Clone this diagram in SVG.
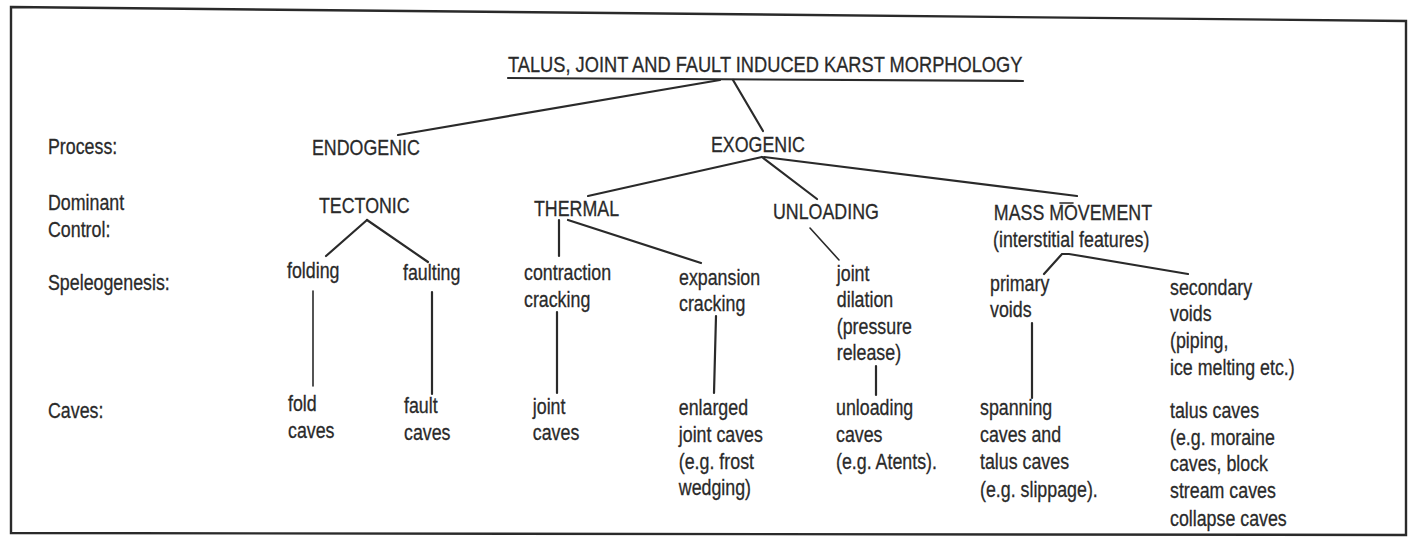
<svg xmlns="http://www.w3.org/2000/svg" width="1413" height="543" viewBox="0 0 1413 543">
<style>
.t { font-family: "Liberation Sans", Arial, Helvetica, sans-serif; font-size: 22px; fill: #2a2a2a; stroke: #2a2a2a; stroke-width: 0.3; transform-box: fill-box; transform-origin: left center; transform: scaleX(0.81); }
.tt { transform: scaleX(0.83); }
.c { stroke: #2a2a2a; stroke-width: 2.2; fill: none; stroke-linecap: round; }
.thin { stroke-width: 1.6; }
.frame { stroke: #2a2a2a; stroke-width: 2.4; fill: none; }
</style>
<rect x="0" y="0" width="1413" height="543" fill="#ffffff"/>
<path class="frame" d="M11,7 L1406,21 L1406,535 L11,533 Z"/>

<g id="title">
  <text class="t tt" x="508" y="72">TALUS, JOINT AND FAULT INDUCED KARST MORPHOLOGY</text>
  <line class="c" x1="508" y1="78" x2="1023" y2="81"/>
</g>

<g id="row-labels">
  <text class="t" x="48" y="154">Process:</text>
  <text class="t" x="48" y="210">Dominant<tspan x="48" dy="27">Control:</tspan></text>
  <text class="t" x="48" y="290">Speleogenesis:</text>
  <text class="t" x="48" y="418">Caves:</text>
</g>

<g id="endogenic"><text class="t" x="312" y="155">ENDOGENIC</text></g>
<g id="exogenic"><text class="t" x="711" y="152">EXOGENIC</text></g>
<g id="tectonic"><text class="t" x="319" y="213">TECTONIC</text></g>
<g id="thermal"><text class="t" x="534" y="216">THERMAL</text></g>
<g id="unloading"><text class="t" x="773" y="219">UNLOADING</text></g>
<g id="mass-movement"><text class="t" x="994" y="220">MASS MOVEMENT<tspan x="993" dy="27">(interstitial features)</tspan></text></g>

<g id="folding"><text class="t" x="287" y="278">folding</text></g>
<g id="faulting"><text class="t" x="403" y="280">faulting</text></g>
<g id="contraction"><text class="t" x="524" y="280">contraction<tspan x="524" dy="27">cracking</tspan></text></g>
<g id="expansion"><text class="t" x="679" y="285">expansion<tspan x="679" dy="26">cracking</tspan></text></g>
<g id="joint-dilation"><text class="t" x="837" y="281">joint<tspan x="837" dy="26.5">dilation</tspan><tspan x="837" dy="26.5">(pressure</tspan><tspan x="837" dy="26.5">release)</tspan></text></g>
<g id="primary-voids"><text class="t" x="990" y="291">primary<tspan x="990" dy="26.5">voids</tspan></text></g>
<g id="secondary-voids"><text class="t" x="1170" y="295">secondary<tspan x="1170" dy="26.5">voids</tspan><tspan x="1170" dy="27">(piping,</tspan><tspan x="1170" dy="27">ice melting etc.)</tspan></text></g>

<g id="fold-caves"><text class="t" x="288" y="411">fold<tspan x="288" dy="27">caves</tspan></text></g>
<g id="fault-caves"><text class="t" x="404" y="413">fault<tspan x="404" dy="27">caves</tspan></text></g>
<g id="joint-caves"><text class="t" x="533" y="414">joint<tspan x="533" dy="26.5">caves</tspan></text></g>
<g id="enlarged-joint-caves"><text class="t" x="679" y="415">enlarged<tspan x="679" dy="27">joint caves</tspan><tspan x="679" dy="27">(e.g. frost</tspan><tspan x="679" dy="26.5">wedging)</tspan></text></g>
<g id="unloading-caves"><text class="t" x="836" y="415">unloading<tspan x="836" dy="27">caves</tspan><tspan x="836" dy="27">(e.g. Atents).</tspan></text></g>
<g id="spanning-caves"><text class="t" x="980" y="415">spanning<tspan x="980" dy="27.5">caves and</tspan><tspan x="980" dy="27">talus caves</tspan><tspan x="980" dy="27.5">(e.g. slippage).</tspan></text></g>
<g id="talus-caves"><text class="t" x="1170" y="418">talus caves<tspan x="1170" dy="27">(e.g. moraine</tspan><tspan x="1170" dy="26.5">caves, block</tspan><tspan x="1170" dy="27">stream caves</tspan><tspan x="1170" dy="27.5">collapse caves</tspan></text></g>

<g id="connectors">
  <line class="c" x1="720" y1="80" x2="398" y2="135"/>
  <line class="c" x1="733" y1="80" x2="763" y2="131"/>
  <line class="c" x1="762" y1="157" x2="588" y2="196"/>
  <line class="c" x1="762" y1="157" x2="817" y2="199"/>
  <line class="c" x1="764" y1="157" x2="1077" y2="196"/>
  <line class="c thin" x1="1060" y1="203" x2="1073" y2="203"/>
  <line class="c" x1="367" y1="220" x2="326" y2="256"/>
  <line class="c" x1="367" y1="220" x2="428" y2="262"/>
  <line class="c thin" x1="313" y1="291" x2="313" y2="386"/>
  <line class="c" x1="432" y1="292" x2="432" y2="394"/>
  <line class="c" x1="559" y1="220" x2="559" y2="256"/>
  <line class="c" x1="568" y1="220" x2="701" y2="263"/>
  <line class="c" x1="557" y1="312" x2="557" y2="393"/>
  <line class="c" x1="716" y1="316" x2="714" y2="393"/>
  <line class="c thin" x1="810" y1="228" x2="839" y2="260"/>
  <line class="c" x1="876" y1="366" x2="876" y2="395"/>
  <polyline class="c" points="1044,274 1062,254 1069,254 1188,274"/>
  <line class="c" x1="1032" y1="323" x2="1032" y2="398"/>
</g>
</svg>
